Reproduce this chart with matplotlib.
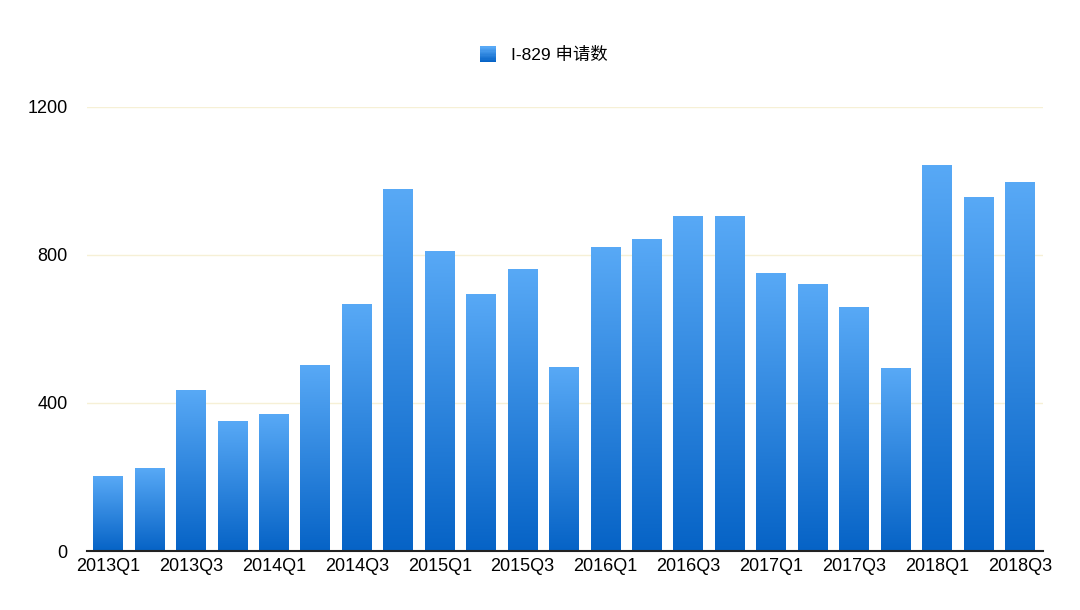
import matplotlib
matplotlib.use("Agg")
import matplotlib.pyplot as plt
import numpy as np
from matplotlib.patches import Rectangle
from matplotlib.legend_handler import HandlerBase

plt.rcParams['font.family'] = ['Liberation Sans', 'Noto Sans CJK SC', 'DejaVu Sans']

quarters = ["2013Q1", "2013Q2", "2013Q3", "2013Q4", "2014Q1", "2014Q2", "2014Q3", "2014Q4",
            "2015Q1", "2015Q2", "2015Q3", "2015Q4", "2016Q1", "2016Q2", "2016Q3", "2016Q4",
            "2017Q1", "2017Q2", "2017Q3", "2017Q4", "2018Q1", "2018Q2", "2018Q3"]
values = [200, 222, 435, 349, 368, 500, 665, 976, 808, 692, 762, 497, 819, 843, 905, 903,
          751, 719, 657, 492, 1043, 954, 997]
series_name = "I-829 申请数"
yticks = [0, 400, 800, 1200]

top_color = np.array([0x58, 0xa9, 0xf6]) / 255
bot_color = np.array([0x06, 0x63, 0xc6]) / 255

fig = plt.figure(figsize=(10.8, 6.1), dpi=100)
ax = fig.add_axes([0.0806, 0.0967, 0.885, 0.728])

x = np.arange(len(quarters))
width = 0.72
bars = ax.bar(x, values, width=width, color='none', edgecolor='none', zorder=2)

grad = np.linspace(0, 1, 256).reshape(-1, 1)
cmap = matplotlib.colors.LinearSegmentedColormap.from_list('g', [bot_color, top_color])
for b in bars:
    x0, y0 = b.get_x(), b.get_y()
    w, h = b.get_width(), b.get_height()
    ax.imshow(grad, extent=[x0, x0 + w, y0, y0 + h], origin='lower', cmap=cmap,
              aspect='auto', zorder=2, interpolation='bilinear')

ax.set_xlim(-0.507, len(quarters) - 0.45)
ax.set_ylim(0, 1200)
ax.set_yticks(yticks)
ax.set_yticklabels([str(v) for v in yticks], fontsize=13)
ax.set_xticks(x[::2])
ax.set_xticklabels(quarters[::2], fontsize=13)
ax.tick_params(length=0, pad=5)
ax.tick_params(axis='y', pad=14)
ax.yaxis.grid(True, color='#f6f0d6', linewidth=1, zorder=0)
ax.set_axisbelow(True)
for s in ['top', 'right', 'left']:
    ax.spines[s].set_visible(False)
ax.spines['bottom'].set_color('#222222')
ax.spines['bottom'].set_linewidth(1.5)
ax.spines['bottom'].set_zorder(3)


class GradHandler(HandlerBase):
    def create_artists(self, legend, orig_handle, xdescent, ydescent, width, height, fontsize, trans):
        size = min(width, height) * 1.05
        x0 = -xdescent + (width - size) / 2
        y0 = -ydescent + (height - size) / 2
        arts = []
        n = 12
        for i in range(n):
            c = bot_color + (top_color - bot_color) * (i / (n - 1))
            r = Rectangle((x0, y0 + size * i / n), size, size / n + 0.3, facecolor=c,
                          edgecolor='none', transform=trans)
            arts.append(r)
        return arts


handle = Rectangle((0, 0), 1, 1)
leg = fig.legend([handle], [series_name], handler_map={Rectangle: GradHandler()},
                 loc='center', bbox_to_anchor=(0.503, 0.91), frameon=False, fontsize=12.5,
                 handlelength=1.0, handleheight=1.0, handletextpad=0.8)

fig.savefig("out.png", dpi=100)
